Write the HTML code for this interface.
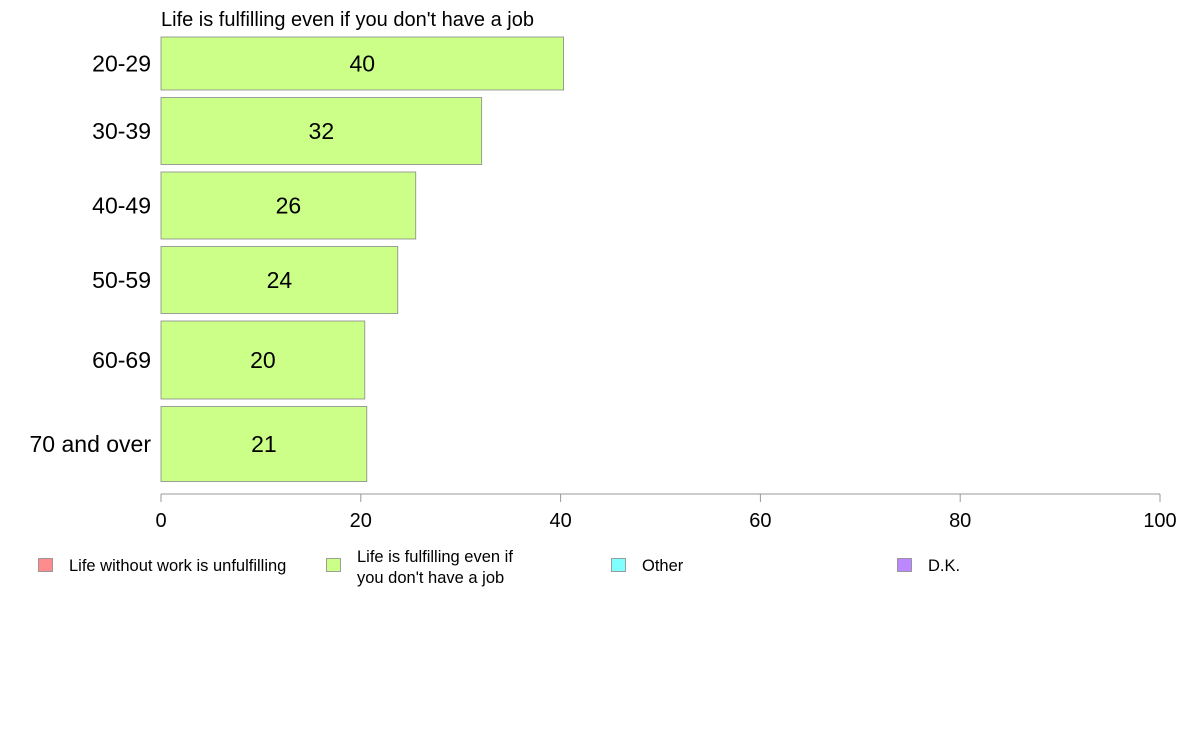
<!DOCTYPE html>
<html><head><meta charset="utf-8"><style>
body{margin:0;background:#fff;font-family:"Liberation Sans",sans-serif}
svg{display:block}
</style></head><body>
<svg id="c" width="1188" height="736">
<text x="161" y="26" font-size="20" fill="#000">Life is fulfilling even if you don't have a job</text>
</svg>
<script>
const categories=["20-29","30-39","40-49","50-59","60-69","70 and over"];
const values=[40.3,32.1,25.5,23.7,20.4,20.6];
const valueLabels=["40","32","26","24","20","21"];
const bandSizes=[53,67,67,67,78,75];
const xTicks=[0,20,40,60,80,100];
const legendLabels=[["Life without work is unfulfilling"],["Life is fulfilling even if","you don't have a job"],["Other"],["D.K."]];
const legendColors=["#ff8c8c","#ccff88","#80ffff","#bb88ff"];

const svg=document.getElementById('c');
const NS="http://www.w3.org/2000/svg";
function mk(t,a){const e=document.createElementNS(NS,t);for(const k in a)e.setAttribute(k,a[k]);svg.appendChild(e);return e;}
const x0=161,x1=1160,xMax=100;
const xs=v=>x0+(x1-x0)*v/xMax;
const yTop=37,gap=7.5;
let y=yTop;
categories.forEach((c,i)=>{
  const h=bandSizes[i];
  const r=mk('rect',{x:xs(0),y:y,width:xs(values[i])-xs(0),height:h,fill:"#ccff88",stroke:"#888","stroke-width":0.8});
  
  
  const t=mk('text',{x:(xs(0)+xs(values[i]))/2,y:y+h/2+8,"text-anchor":"middle","font-size":23,fill:"#000"});
  t.textContent=valueLabels[i];
  
  
  const l=mk('text',{x:151,y:y+h/2+8,"text-anchor":"end","font-size":23,fill:"#000"});
  l.textContent=c;
  
  
  y+=h+gap;
});
const ay=494;
const ax=mk('line',{x1:xs(0),x2:xs(xMax),y1:ay,y2:ay,stroke:"#999","stroke-width":1});


xTicks.forEach(v=>{
  const tk=mk('line',{x1:xs(v),x2:xs(v),y1:ay,y2:ay+8,stroke:"#999","stroke-width":1});
  
  
  const tl=mk('text',{x:xs(v),y:527,"text-anchor":"middle","font-size":20,fill:"#000"});
  tl.textContent=v;
  
  
});
const lx=[38,326,611,897];
legendLabels.forEach((lab,i)=>{
  const s=mk('rect',{x:lx[i]+0.5,y:558.5,width:14,height:13,fill:legendColors[i],stroke:"#888","stroke-width":0.8});
  
  
  lab.forEach((line,j)=>{
    const ly=lab.length>1?562+j*21:571;
    const t=mk('text',{x:lx[i]+31,y:ly,"font-size":16.5,fill:"#000"});
    t.textContent=line;
    
    
  });
});
</script>
</body></html>
